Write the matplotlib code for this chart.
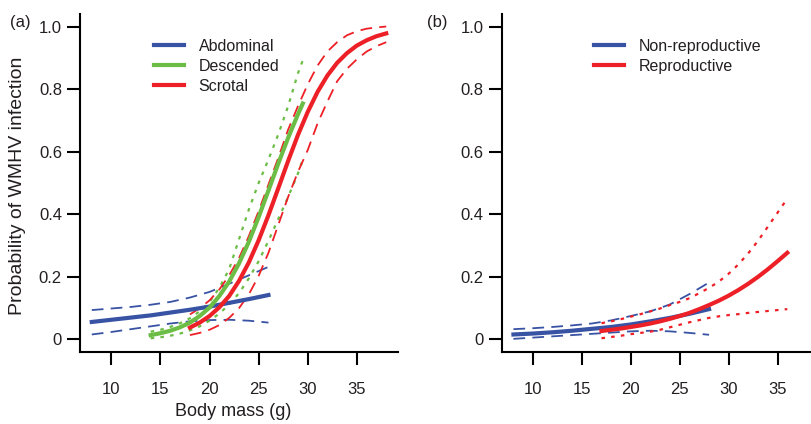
import numpy as np
import matplotlib
matplotlib.use("Agg")
import matplotlib.pyplot as plt

plt.rcParams['font.family'] = ['Liberation Sans', 'DejaVu Sans']

BLUE = '#3953a4'
GREEN = '#6bbd45'
RED = '#ed2027'
INK = '#231f20'

# ---- panel (a): testes position ----
abd_x = [8, 10, 12, 14, 16, 18, 20, 22, 24, 26]
abd_fit = [0.056, 0.063, 0.070, 0.077, 0.086, 0.095, 0.105, 0.117, 0.129, 0.142]
abd_hi = [0.094, 0.099, 0.104, 0.111, 0.120, 0.134, 0.152, 0.178, 0.205, 0.232]
abd_lo = [0.016, 0.024, 0.033, 0.042, 0.051, 0.058, 0.062, 0.063, 0.060, 0.054]

desc_x = [14, 15, 16, 17, 18, 19, 20, 21, 22, 23, 24, 25, 26, 27, 28, 29, 29.5]
desc_fit = [0.014, 0.020, 0.028, 0.039, 0.054, 0.075, 0.102, 0.139, 0.185, 0.243,
            0.312, 0.391, 0.476, 0.562, 0.644, 0.719, 0.754]
desc_hi = [0.025, 0.031, 0.040, 0.052, 0.068, 0.090, 0.120, 0.165, 0.225, 0.320,
           0.415, 0.500, 0.575, 0.655, 0.745, 0.850, 0.892]
desc_lo = [0.004, 0.007, 0.012, 0.019, 0.029, 0.042, 0.060, 0.083, 0.112, 0.148,
           0.195, 0.250, 0.315, 0.385, 0.455, 0.530, 0.575]

scr_x = [18, 19, 20, 21, 22, 23, 24, 25, 26, 27, 28, 29, 30, 31, 32, 33, 34, 35, 36, 37, 38]
scr_fit = [0.038, 0.054, 0.075, 0.103, 0.139, 0.187, 0.246, 0.317, 0.397, 0.483, 0.570,
           0.653, 0.727, 0.791, 0.843, 0.884, 0.915, 0.939, 0.956, 0.969, 0.978]
scr_hi = [0.080, 0.100, 0.125, 0.160, 0.205, 0.260, 0.330, 0.410, 0.495, 0.580, 0.670,
          0.745, 0.815, 0.875, 0.920, 0.950, 0.972, 0.985, 0.993, 0.997, 1.000]
scr_lo = [0.014, 0.021, 0.031, 0.046, 0.069, 0.100, 0.144, 0.203, 0.277, 0.366, 0.455,
          0.535, 0.605, 0.690, 0.760, 0.825, 0.865, 0.895, 0.920, 0.937, 0.950]

# ---- panel (b): reproductive status ----
nr_x = [8, 10, 12, 14, 16, 18, 20, 22, 24, 26, 28]
nr_fit = [0.016, 0.019, 0.023, 0.028, 0.034, 0.040, 0.048, 0.058, 0.069, 0.082, 0.097]
nr_hi = [0.033, 0.036, 0.040, 0.045, 0.051, 0.061, 0.075, 0.090, 0.112, 0.145, 0.182]
nr_lo = [0.002, 0.006, 0.010, 0.014, 0.018, 0.022, 0.026, 0.028, 0.026, 0.021, 0.015]

rep_x = [17, 18, 19, 20, 21, 22, 23, 24, 25, 26, 27, 28, 29, 30, 31, 32, 33, 34, 35, 36]
rep_fit = [0.027, 0.031, 0.035, 0.040, 0.045, 0.051, 0.058, 0.066, 0.075, 0.085,
           0.097, 0.110, 0.124, 0.140, 0.158, 0.178, 0.200, 0.224, 0.250, 0.277]
rep_hi = [0.052, 0.058, 0.065, 0.073, 0.081, 0.090, 0.099, 0.110, 0.120, 0.132,
          0.148, 0.165, 0.185, 0.210, 0.240, 0.275, 0.315, 0.360, 0.405, 0.450]
rep_lo = [0.004, 0.008, 0.012, 0.017, 0.021, 0.025, 0.031, 0.039, 0.047, 0.055,
          0.062, 0.069, 0.074, 0.078, 0.081, 0.085, 0.088, 0.091, 0.094, 0.097]

x_ticks = [10, 15, 20, 25, 30, 35]
y_ticks = [0, 0.2, 0.4, 0.6, 0.8, 1.0]
y_ticklabels = ['0', '0.2', '0.4', '0.6', '0.8', '1.0']

W, H = 812, 424
fig = plt.figure(figsize=(W / 100, H / 100), dpi=100)

def px_axes(x0, x1, y0, y1):
    return fig.add_axes([x0 / W, 1 - y1 / H, (x1 - x0) / W, (y1 - y0) / H])

axa = px_axes(80, 398, 14, 352)
axb = px_axes(501.7, 818.6, 14, 352)

SOLID = 3.0
DASH = dict(lw=1.3, ls=(0, (6.5, 4.0)))
DOT = dict(lw=1.6, ls=(0, (1.6, 2.8)))

# panel a
axa.plot(abd_x, abd_hi, color=BLUE, **DASH)
axa.plot(abd_x, abd_lo, color=BLUE, **DASH)
axa.plot(desc_x, desc_hi, color=GREEN, **DOT)
axa.plot(desc_x, desc_lo, color=GREEN, **DOT)
axa.plot(scr_x, scr_hi, color=RED, **DASH)
axa.plot(scr_x, scr_lo, color=RED, **DASH)
axa.plot(abd_x, abd_fit, color=BLUE, lw=SOLID, label='Abdominal')
axa.plot(desc_x, desc_fit, color=GREEN, lw=SOLID, label='Descended')
axa.plot(scr_x, scr_fit, color=RED, lw=SOLID, label='Scrotal')

# panel b
axb.plot(nr_x, nr_hi, color=BLUE, **DASH)
axb.plot(nr_x, nr_lo, color=BLUE, **DASH)
axb.plot(rep_x, rep_hi, color=RED, **DOT)
axb.plot(rep_x, rep_lo, color=RED, **DOT)
axb.plot(nr_x, nr_fit, color=BLUE, lw=SOLID, label='Non-reproductive')
axb.plot(rep_x, rep_fit, color=RED, lw=SOLID, label='Reproductive')

for ax in (axa, axb):
    ax.set_xlim(6.8, 39.2)
    ax.set_ylim(-0.04, 1.04)
    ax.set_xticks(x_ticks)
    ax.set_xticklabels([str(t) for t in x_ticks])
    ax.set_yticks(y_ticks)
    ax.set_yticklabels(y_ticklabels)
    for s in ('top', 'right'):
        ax.spines[s].set_visible(False)
    for s in ('left', 'bottom'):
        ax.spines[s].set_linewidth(1.5)
        ax.spines[s].set_color('black')
    ax.tick_params(axis='both', length=9.5, width=1.5, labelsize=12, labelcolor=INK)
    ax.tick_params(axis='x', pad=12)
    ax.tick_params(axis='y', pad=3.5)
    ax.patch.set_visible(False)

leg_kw = dict(frameon=False, fontsize=11.5, handlelength=1.9, handletextpad=0.9,
              labelspacing=0.3, borderpad=0, borderaxespad=0, loc='upper left')
la = axa.legend(bbox_to_anchor=(154 / W, 1 - 39 / H), bbox_transform=fig.transFigure, **leg_kw)
lb = axb.legend(bbox_to_anchor=(594 / W, 1 - 39 / H), bbox_transform=fig.transFigure, **leg_kw)
for lg in (la, lb):
    for t in lg.get_texts():
        t.set_color(INK)
    for l in lg.get_lines():
        l.set_linewidth(3.0)

fig.text(233 / W, 1 - 411 / H, 'Body mass (g)', ha='center', va='center', fontsize=13, color=INK)
fig.text(18 / W, 1 - 186 / H, 'Probability of WMHV infection', rotation=90,
         ha='center', va='center', fontsize=14, color=INK)
fig.text(20 / W, 1 - 22 / H, '(a)', ha='center', va='center', fontsize=12, color=INK)
fig.text(437 / W, 1 - 22 / H, '(b)', ha='center', va='center', fontsize=12, color=INK)

fig.savefig('out.png', dpi=100)
